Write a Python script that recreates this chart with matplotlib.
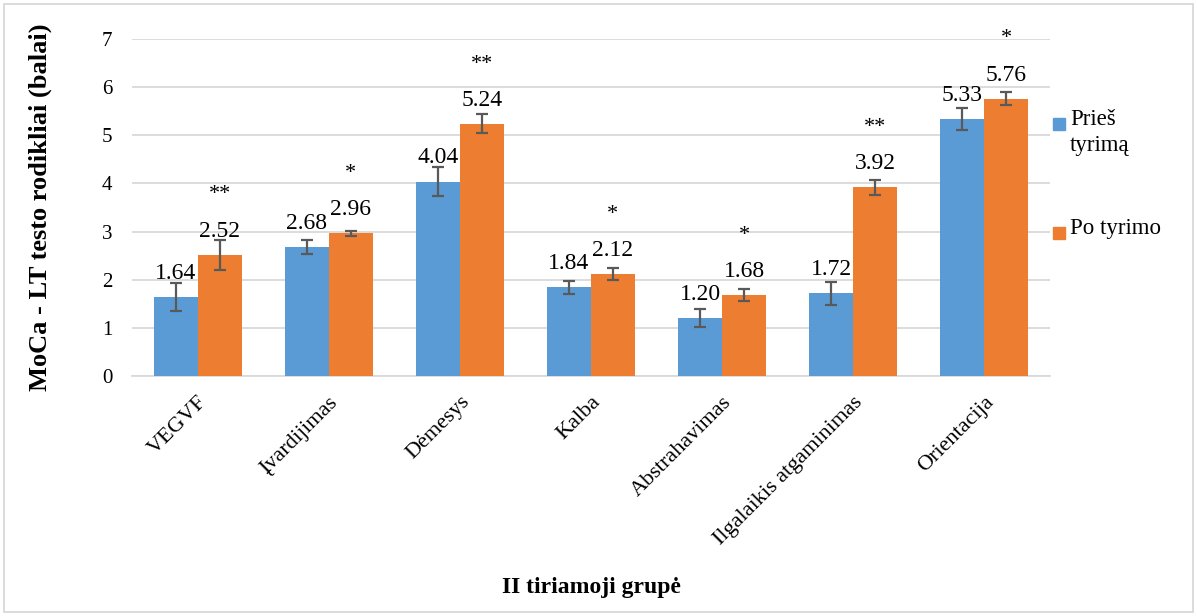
import matplotlib
matplotlib.use("Agg")
import matplotlib.pyplot as plt
import numpy as np
from matplotlib.patches import Rectangle

plt.rcParams['font.family'] = ['Liberation Serif', 'DejaVu Serif']

categories = ["VEGVF", "Įvardijimas", "Dėmesys", "Kalba", "Abstrahavimas",
              "Ilgalaikis atgaminimas", "Orientacija"]
before = [1.64, 2.68, 4.04, 1.84, 1.20, 1.72, 5.33]
after = [2.52, 2.96, 5.24, 2.12, 1.68, 3.92, 5.76]
before_err = [0.29, 0.15, 0.30, 0.135, 0.19, 0.24, 0.23]
after_err = [0.31, 0.045, 0.20, 0.13, 0.13, 0.16, 0.13]
significance = ["**", "*", "**", "*", "*", "**", "*"]
series_names = ["Prieš\ntyrimą", "Po tyrimo"]

blue = "#5B9BD5"
orange = "#ED7D31"
err_color = "#595959"
grid_color = "#D9D9D9"

W, H = 1197, 616
fig = plt.figure(figsize=(W / 100, H / 100), dpi=100)
ax = fig.add_axes([132 / W, (H - 376) / H, (1050 - 132) / W, (376 - 39) / H])

x = np.arange(len(categories))
bw = 0.335
eb_kw = dict(ecolor=err_color, elinewidth=1.6, capsize=4.5, capthick=1.6)
ax.bar(x - bw / 2, before, bw, color=blue, yerr=before_err,
       error_kw=eb_kw, zorder=3)
ax.bar(x + bw / 2, after, bw, color=orange, yerr=after_err,
       error_kw=eb_kw, zorder=3)

ax.set_xlim(-0.5, len(categories) - 0.5)
ax.set_ylim(0, 7)
ax.set_yticks(range(0, 8))
ax.yaxis.grid(True, color=grid_color, linewidth=1.3, zorder=0)
ax.set_axisbelow(True)
for s in ["top", "right", "left"]:
    ax.spines[s].set_visible(False)
ax.spines["bottom"].set_color(grid_color)
ax.spines["bottom"].set_linewidth(1.3)
ax.tick_params(axis="both", length=0, colors="#000000")
ax.tick_params(axis="y", pad=14, labelsize=15)
ax.set_xticks(x)
ax.set_xticklabels(categories, rotation=45, ha="right", rotation_mode="anchor",
                   fontsize=16)
ax.tick_params(axis="x", pad=12)

# value labels above each bar, significance marks above the "after" labels
for xi, v in zip(x - bw / 2, before):
    ax.annotate(f"{v:.2f}", (xi, v), xytext=(0, 17), textcoords="offset points",
                ha="center", va="center", fontsize=17)
for xi, v, s in zip(x + bw / 2, after, significance):
    ax.annotate(f"{v:.2f}", (xi, v), xytext=(0, 17), textcoords="offset points",
                ha="center", va="center", fontsize=17)
    ax.annotate(s, (xi, v), xytext=(0, 43), textcoords="offset points",
                ha="center", va="center", fontsize=16)

ax.set_ylabel("MoCa - LT testo rodikliai (balai)", fontsize=19, fontweight="bold",
              labelpad=36)
fig.text(591 / W, 1 - 587 / H, "II tiriamoji grupė", ha="center", va="center",
         fontsize=17, fontweight="bold")

# legend drawn at the right margin
sq = 12
for (name, col, ytop) in [(series_names[0], blue, 118), (series_names[1], orange, 227)]:
    fig.patches.append(Rectangle((1053 / W, 1 - (ytop + sq) / H), sq / W, sq / H,
                                 color=col, transform=fig.transFigure))
    fig.text(1070 / W, 1 - (ytop - 9) / H, name, ha="left", va="top",
             fontsize=16.5, linespacing=1.3)

# outer chart border
fig.patches.append(Rectangle((4 / W, 4 / H), (W - 8) / W, (H - 8) / H,
                             fill=False, edgecolor=grid_color, linewidth=1.3,
                             transform=fig.transFigure))

fig.savefig("out.png", dpi=100)
